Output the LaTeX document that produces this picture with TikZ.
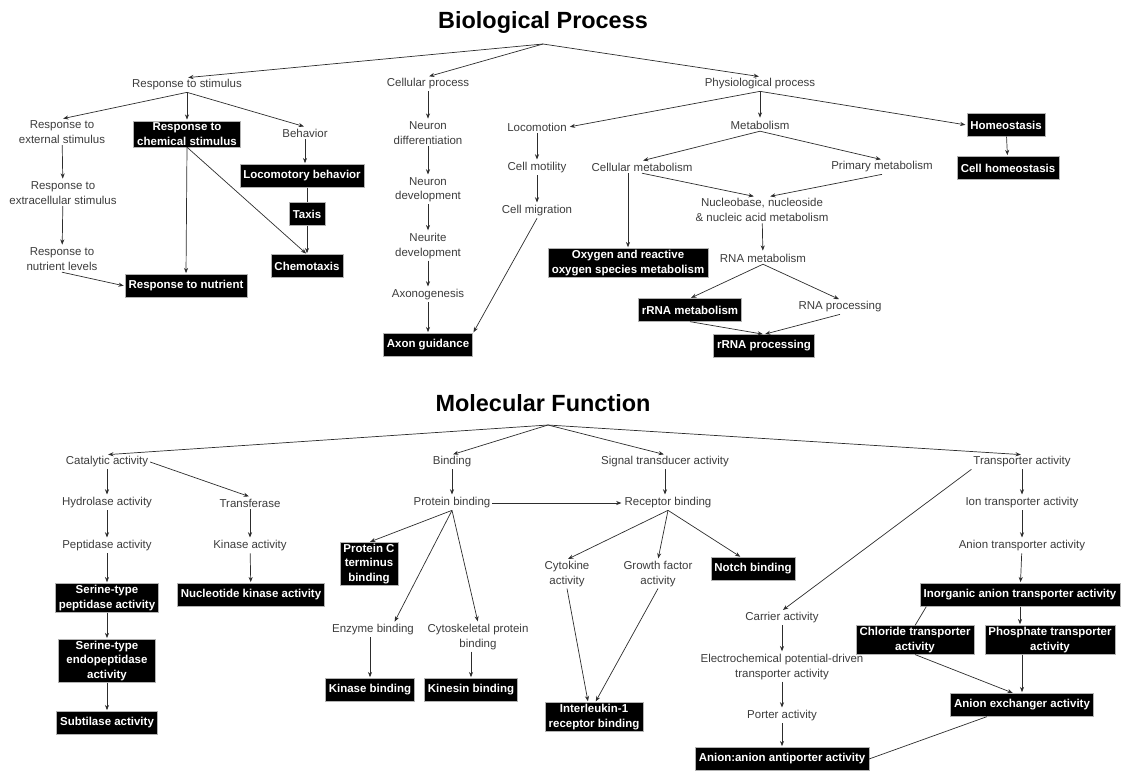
\documentclass[tikz,border=0pt]{standalone}
\usepackage{fontspec}
\setmainfont{Liberation Sans}
\usepackage{xcolor}
\definecolor{termtext}{RGB}{60, 60, 60}
\definecolor{linkgray}{RGB}{45, 45, 45}
\usepackage{tikz}
\usetikzlibrary{arrows.meta}
\tikzstyle{term} = [text=termtext, align=center, inner sep=1.5pt, font=\fontsize{9.8}{12.3}\selectfont]
\tikzstyle{hit} = [rectangle, fill=black, draw=gray!60, text=white, align=center, inner xsep=3pt, inner ysep=1.5pt, minimum height=19.5pt, font=\bfseries\fontsize{9.8}{12.3}\selectfont]
\tikzstyle{heading} = [font=\bfseries\fontsize{20}{24}\selectfont]
\tikzstyle{arrow} = [draw=linkgray, line width=0.6pt, -{Stealth[length=4.5pt,width=3.5pt]}, shorten >=1pt]
\tikzstyle{link} = [draw=linkgray, line width=0.6pt]

\begin{document}
\begin{tikzpicture}[x=0.03cm, y=-0.03cm]
    \useasboundingbox (0,0) rectangle (1123,771);

    % Biological Process
    \node[heading] (bptitle) at (543,22) {Biological Process};
    \coordinate (bproot) at (543,44);
    \node[term] (stim) at (187,85) {Response to stimulus};
    \node[term] (cellproc) at (428,84) {Cellular process};
    \node[term] (physproc) at (760,84) {Physiological process};
    \node[term] (extstim) at (62,132) {Response to\\external stimulus};
    \node[hit] (chemstim) at (187,134) {Response to\\chemical stimulus};
    \node[term] (behav) at (305,133) {Behavior};
    \node[hit] (locbeh) at (302,176) {Locomotory behavior};
    \node[hit] (taxis) at (307,214) {Taxis};
    \node[hit] (chemotax) at (307,266) {Chemotaxis};
    \node[term] (extcell) at (63,193) {Response to\\extracellular stimulus};
    \node[term] (nutlev) at (62,259) {Response to\\nutrient levels};
    \node[hit] (respnut) at (186,286) {Response to nutrient};
    \node[term] (neurdiff) at (428,133) {Neuron\\differentiation};
    \node[term] (neurdev) at (428,190) {Neuron\\development};
    \node[term] (neuritedev) at (428,246) {Neurite\\development};
    \node[term] (axgen) at (428,295) {Axonogenesis};
    \node[hit] (axguid) at (428,345) {Axon guidance};
    \node[term] (locom) at (537,127) {Locomotion};
    \node[term] (cellmot) at (537,168) {Cell motility};
    \node[term] (cellmig) at (537,211) {Cell migration};
    \node[term] (metab) at (760,125) {Metabolism};
    \node[term] (cellmetab) at (642,167) {Cellular metabolism};
    \node[term] (primmetab) at (882,167) {Primary metabolism};
    \node[term] (nucleo) at (762,210) {Nucleobase, nucleoside\\\& nucleic acid metabolism};
    \node[hit] (oxygen) at (628,263) {Oxygen and reactive\\oxygen species metabolism};
    \node[term] (rnametab) at (763,258) {RNA metabolism};
    \node[hit] (rrnametab) at (690,310) {rRNA metabolism};
    \node[term] (rnaproc) at (840,307) {RNA processing};
    \node[hit] (rrnaproc) at (764,346) {rRNA processing};
    \node[hit] (homeo) at (1006,125) {Homeostasis};
    \node[hit] (cellhomeo) at (1008,168) {Cell homeostasis};

    \draw[arrow] (bproot) -- (stim.north);
    \draw[arrow] (bproot) -- (cellproc.north);
    \draw[arrow] (bproot) -- (physproc.north);
    \draw[arrow] (stim.south) -- (extstim.north);
    \draw[arrow] (stim.south) -- (chemstim.north);
    \draw[arrow] (stim.south) -- (behav.north);
    \draw[arrow] (extstim) -- (extcell);
    \draw[arrow] (extcell) -- (nutlev);
    \draw[arrow] (nutlev.south) -- (respnut.west);
    \draw[arrow] (chemstim.south) -- (respnut.north);
    \draw[arrow] (chemstim.south) -- (chemotax.north);
    \draw[arrow] (behav.south) -- (behav.south |- locbeh.north);
    \draw[link] (taxis.north |- locbeh.south) -- (taxis.north);
    \draw[arrow] (taxis) -- (chemotax);
    \draw[arrow] (cellproc) -- (neurdiff);
    \draw[arrow] (neurdiff) -- (neurdev);
    \draw[arrow] (neurdev) -- (neuritedev);
    \draw[arrow] (neuritedev) -- (axgen);
    \draw[arrow] (axgen) -- (axguid);
    \draw[arrow] (physproc.south) -- (locom.east);
    \draw[arrow] (physproc) -- (metab);
    \draw[arrow] (physproc.south) -- (homeo.west);
    \draw[arrow] (homeo) -- (cellhomeo);
    \draw[arrow] (locom) -- (cellmot);
    \draw[arrow] (cellmot) -- (cellmig);
    \draw[arrow] (cellmig.south) -- (axguid.north east);
    \draw[arrow] (metab.south) -- (cellmetab.north);
    \draw[arrow] (metab.south) -- (primmetab.north);
    \draw[arrow] (oxygen.north |- cellmetab.south) -- (oxygen.north);
    \draw[arrow] (cellmetab.south) -- ([xshift=-6pt]nucleo.north);
    \draw[arrow] (primmetab.south) -- ([xshift=6pt]nucleo.north);
    \draw[arrow] (nucleo) -- (rnametab);
    \draw[arrow] (rnametab.south) -- (rrnametab.north);
    \draw[arrow] (rnametab.south) -- (rnaproc.north);
    \draw[arrow] (rrnametab.south) -- (rrnaproc.north);
    \draw[arrow] (rnaproc.south) -- (rrnaproc.north);

    % Molecular Function
    \node[heading] (mftitle) at (543,403) {Molecular Function};
    \coordinate (mfroot) at (548,425);
    \node[term] (catal) at (107,462) {Catalytic activity};
    \node[term] (bind) at (452,462) {Binding};
    \node[term] (signal) at (665,462) {Signal transducer activity};
    \node[term] (transp) at (1022,462) {Transporter activity};
    \node[term] (hydro) at (107,503) {Hydrolase activity};
    \node[term] (pept) at (107,546) {Peptidase activity};
    \node[hit] (serpep) at (107,598) {Serine-type\\peptidase activity};
    \node[hit, minimum width=83pt] (serendo) at (107,661) {Serine-type\\endopeptidase\\activity};
    \node[hit, minimum width=83pt] (subtil) at (107,723) {Subtilase activity};
    \node[term] (transf) at (250,503) {Transferase};
    \node[term] (kinact) at (250,546) {Kinase activity};
    \node[hit] (nuckin) at (251,595) {Nucleotide kinase activity};
    \node[term] (protbind) at (452,503) {Protein binding};
    \node[term] (recbind) at (668,503) {Receptor binding};
    \node[hit] (protc) at (369,564) {Protein C\\terminus\\binding};
    \node[term] (enzbind) at (373,630) {Enzyme binding};
    \node[term] (cytobind) at (478,637) {Cytoskeletal protein\\binding};
    \node[hit] (kinbind) at (370,690) {Kinase binding};
    \node[hit] (kinesin) at (471,690) {Kinesin binding};
    \node[term] (cytokine) at (567,574) {Cytokine\\activity};
    \node[term] (growth) at (658,574) {Growth factor\\activity};
    \node[hit] (notch) at (753,569) {Notch binding};
    \node[hit] (interl) at (594,717) {Interleukin-1\\receptor binding};
    \node[term] (iontr) at (1022,503) {Ion transporter activity};
    \node[term] (aniontr) at (1022,546) {Anion transporter activity};
    \node[hit] (inorg) at (1020,595) {Inorganic anion transporter activity};
    \node[hit] (chlor) at (915,640) {Chloride transporter\\activity};
    \node[hit] (phos) at (1050,640) {Phosphate transporter\\activity};
    \node[hit] (anexch) at (1022,705) {Anion exchanger activity};
    \node[term] (carrier) at (782,618) {Carrier activity};
    \node[term] (electro) at (782,667) {Electrochemical potential-driven\\transporter activity};
    \node[term] (porter) at (782,716) {Porter activity};
    \node[hit] (antiport) at (782,759) {Anion:anion antiporter activity};

    \draw[arrow] (mfroot) -- (catal.north);
    \draw[arrow] (mfroot) -- (bind.north);
    \draw[arrow] (mfroot) -- (signal.north);
    \draw[arrow] (mfroot) -- (transp.north);
    \draw[arrow] (catal) -- (hydro);
    \draw[arrow] (hydro) -- (pept);
    \draw[arrow] (pept) -- (serpep);
    \draw[arrow] (serpep) -- (serendo);
    \draw[arrow] (serendo) -- (subtil);
    \draw[arrow] (catal.east) -- (transf.north);
    \draw[arrow] (transf) -- (kinact);
    \draw[arrow] (kinact) -- (nuckin);
    \draw[arrow] (bind) -- (protbind);
    \draw[arrow] (protbind.east) -- (recbind.west);
    \draw[arrow] (protbind.south) -- (protc.north);
    \draw[arrow] (protbind.south) -- ([xshift=18pt]enzbind.north);
    \draw[arrow] (protbind.south) -- (cytobind.north);
    \draw[arrow] (enzbind.south -| kinbind.north) -- (kinbind.north);
    \draw[arrow] (cytobind.south -| kinesin.north) -- (kinesin.north);
    \draw[arrow] (signal) -- (recbind.north -| signal.south);
    \draw[arrow] (recbind.south) -- (cytokine.north);
    \draw[arrow] (recbind.south) -- (growth.north);
    \draw[arrow] (recbind.south) -- ([xshift=-10pt]notch.north);
    \draw[arrow] (cytokine.south) -- ([xshift=-5pt]interl.north);
    \draw[arrow] (growth.south) -- ([xshift=1pt]interl.north);
    \draw[arrow] (transp) -- (iontr);
    \draw[arrow] (iontr) -- (aniontr);
    \draw[arrow] (aniontr) -- (inorg);
    \draw[arrow] (inorg.south) -- (inorg.south |- phos.north);
    \draw[link] ([xshift=-80pt]inorg.south) -- (chlor.north);
    \draw[arrow] (phos.south -| anexch.north) -- (anexch.north);
    \draw[arrow] (chlor.south) -- ([xshift=-7pt]anexch.north);
    \draw[arrow] (transp.south west) -- (carrier.north);
    \draw[arrow] (carrier) -- (electro);
    \draw[arrow] (electro) -- (porter);
    \draw[arrow] (porter) -- (antiport);
    \draw[link] ([xshift=-30pt]anexch.south) -- (antiport.east);
\end{tikzpicture}
\end{document}
